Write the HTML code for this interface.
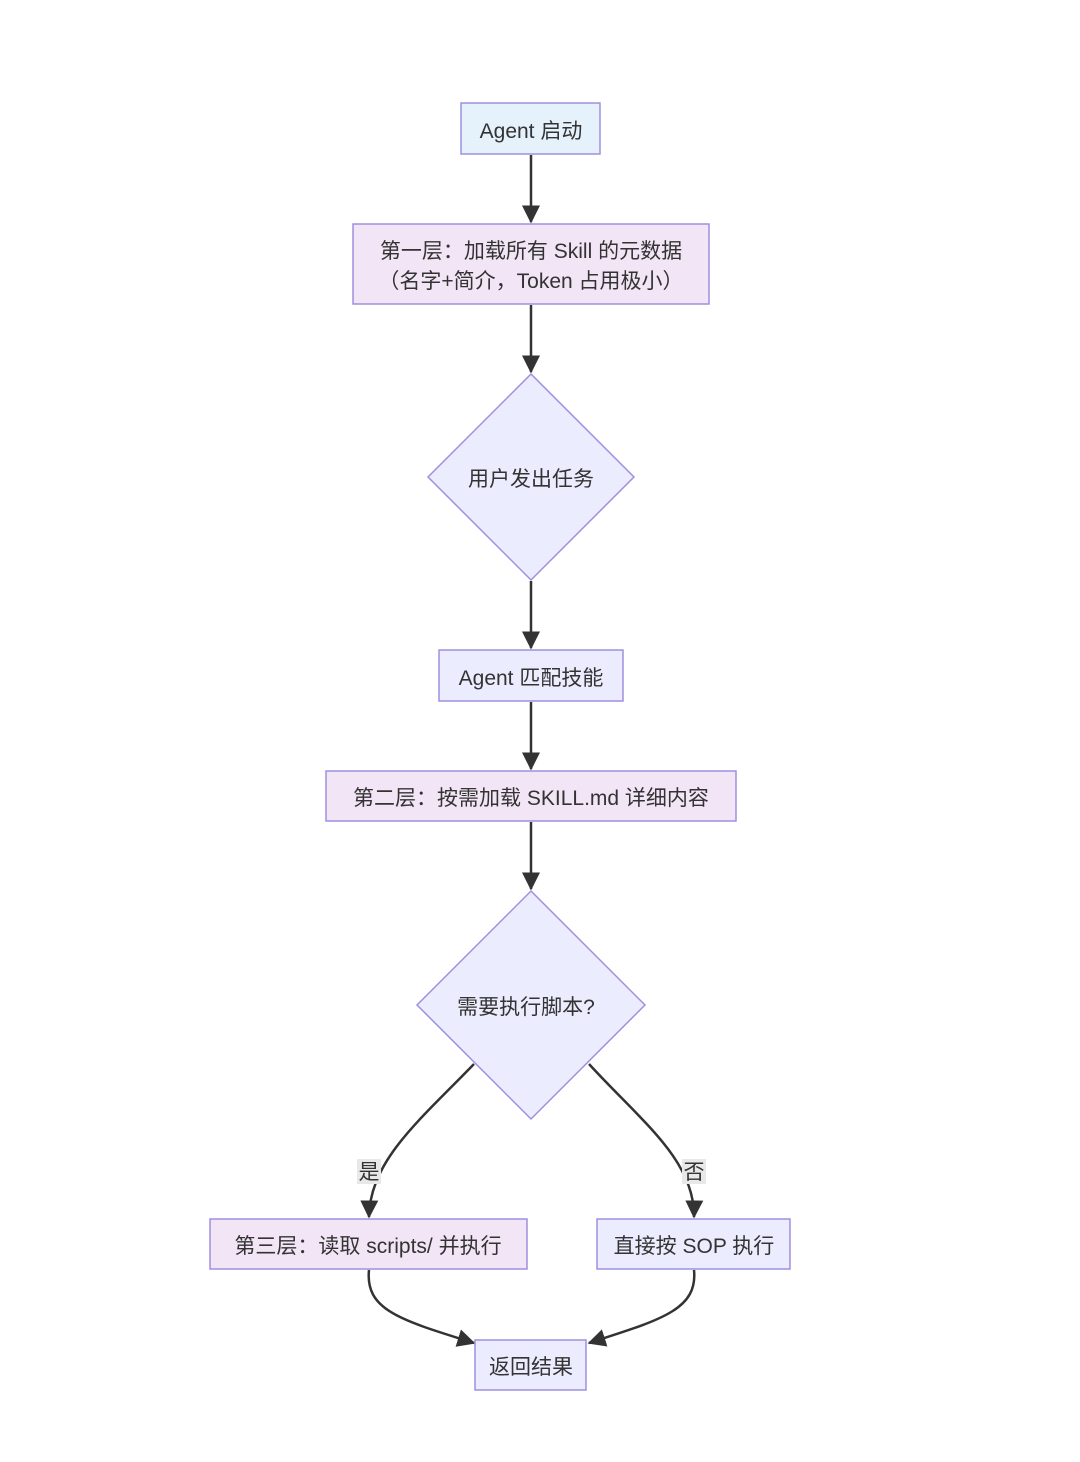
<!DOCTYPE html>
<html><head><meta charset="utf-8"><style>
html,body{margin:0;padding:0;background:#fff;}
svg{display:block;}
text{font-family:"Liberation Sans","Noto Sans CJK SC",sans-serif;font-size:21px;fill:#333;}
</style></head><body>
<svg width="1080" height="1462" viewBox="0 0 1080 1462" xmlns="http://www.w3.org/2000/svg">
<defs><marker id="a" markerWidth="12" markerHeight="12" refX="10" refY="6" orient="auto" markerUnits="userSpaceOnUse">
<path d="M0,0 L12,6 L0,12 z" fill="#333"/></marker>
<marker id="b" viewBox="0 0 12 12" markerWidth="18" markerHeight="18" refX="11" refY="6" orient="auto" markerUnits="userSpaceOnUse">
<path d="M0,0 L12,6 L0,12 z" fill="#333"/></marker></defs>
<g stroke="#333" stroke-width="2.5" fill="none" marker-end="url(#b)">
<path d="M531,155 L531,222"/>
<path d="M531,305 L531,372"/>
<path d="M531,581 L531,648"/>
<path d="M531,702 L531,769"/>
<path d="M531,822 L531,889"/>
<path d="M474,1064 C420,1120 370,1160 369,1217"/>
<path d="M589,1064 C640,1120 695,1160 694,1217"/>
<path d="M369,1270 C365,1310 400,1320 474,1343"/>
<path d="M694,1270 C698,1310 660,1320 589,1343"/>
</g>
<g stroke="#9f8fe0" stroke-width="1.5">
<rect x="461" y="103" width="139" height="51" fill="#e5f1fb"/>
<rect x="353" y="224" width="356" height="80" fill="#f2e5f5"/>
<polygon points="531,374 634,477 531,580 428,477" fill="#ececff"/>
<rect x="439" y="650" width="184" height="51" fill="#ececff"/>
<rect x="326" y="771" width="410" height="50" fill="#f2e5f5"/>
<polygon points="531,891 645,1005 531,1119 417,1005" fill="#ececff"/>
<rect x="210" y="1219" width="317" height="50" fill="#f2e5f5"/>
<rect x="597" y="1219" width="193" height="50" fill="#ececff"/>
<rect x="475" y="1340" width="111" height="50" fill="#ececff"/>
</g>
<rect x="357" y="1159" width="24" height="25" fill="#e8e8e8"/>
<rect x="682" y="1159" width="24" height="25" fill="#e8e8e8"/>
<g text-anchor="middle">
<text x="531" y="138">Agent 启动</text>
<text x="531" y="258">第一层：加载所有 Skill 的元数据</text>
<text x="531" y="288">（名字+简介，Token 占用极小）</text>
<text x="531" y="486">用户发出任务</text>
<text x="531" y="685">Agent 匹配技能</text>
<text x="531" y="805">第二层：按需加载 SKILL.md 详细内容</text>
<text x="526" y="1014">需要执行脚本?</text>
<text x="368" y="1253">第三层：读取 scripts/ 并执行</text>
<text x="694" y="1253">直接按 SOP 执行</text>
<text x="531" y="1374">返回结果</text>
<text x="369" y="1179">是</text>
<text x="694" y="1179">否</text>
</g>
</svg>
</body></html>
